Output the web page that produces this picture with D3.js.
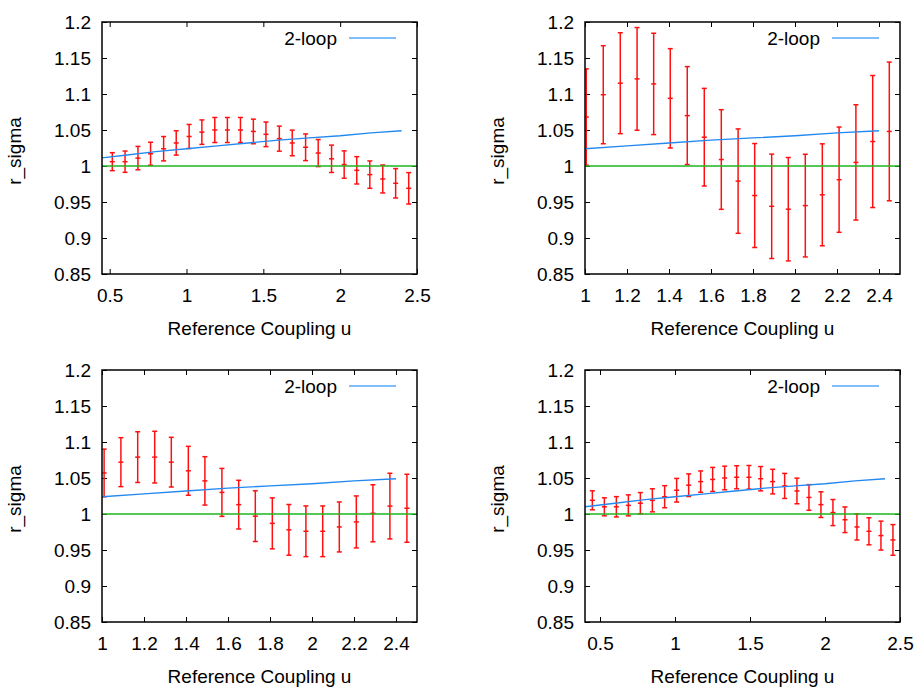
<!DOCTYPE html>
<html><head><meta charset="utf-8">
<script src="https://cdn.jsdelivr.net/npm/d3@7"></script>
<style>
body{margin:0;background:#fff}
svg{display:block}
text{font-family:"Liberation Sans",Arial,Helvetica,sans-serif;fill:#000}
</style>
</head><body>
<svg id="c" width="916" height="688"></svg>
<script>
// ---------- data ----------
const yTicks = [0.85, 0.9, 0.95, 1.0, 1.05, 1.1, 1.15, 1.2];
const yTickLabels = ["0.85", "0.9", "0.95", "1", "1.05", "1.1", "1.15", "1.2"];
const xTicksA = [0.5, 1, 1.5, 2, 2.5];
const xTickLabelsA = ["0.5", "1", "1.5", "2", "2.5"];
const xTicksB = [1, 1.2, 1.4, 1.6, 1.8, 2, 2.2, 2.4];
const xTickLabelsB = ["1", "1.2", "1.4", "1.6", "1.8", "2", "2.2", "2.4"];

const twoLoopU = [0.4, 0.6, 0.8, 1.0, 1.2, 1.4, 1.6, 1.8, 2.0, 2.2, 2.4];
const twoLoopR = [1.010, 1.015, 1.020, 1.024, 1.028, 1.032, 1.036, 1.039, 1.042, 1.046, 1.049];

const p1U = [0.517,0.600,0.684,0.766,0.851,0.933,1.017,1.100,1.184,1.266,1.351,1.435,1.517,1.604,1.688,1.775,1.857,1.944,2.026,2.108,2.193,2.277,2.361,2.446];
const p1R = [1.006,1.006,1.011,1.017,1.024,1.032,1.041,1.047,1.050,1.050,1.050,1.048,1.044,1.038,1.032,1.026,1.018,1.010,1.002,0.994,0.988,0.982,0.976,0.969];
const p1E = [0.0125,0.0148,0.0162,0.016,0.0169,0.0169,0.0167,0.017,0.0174,0.0174,0.0174,0.0171,0.0171,0.0174,0.0178,0.0185,0.0188,0.019,0.019,0.019,0.019,0.0194,0.0204,0.0218];

const p2U = [1.006,1.087,1.168,1.248,1.327,1.406,1.487,1.568,1.649,1.729,1.808,1.889,1.968,2.049,2.130,2.210,2.290,2.370,2.449];
const p2R = [1.068,1.099,1.115,1.121,1.114,1.094,1.070,1.040,1.009,0.979,0.959,0.944,0.940,0.945,0.960,0.981,1.005,1.034,1.048];
const p2E = [0.0669,0.0681,0.0701,0.0713,0.0704,0.069,0.068,0.0678,0.0692,0.0725,0.0722,0.0725,0.0718,0.0713,0.0708,0.0731,0.0801,0.0917,0.0963];

const p3U = [1.010,1.090,1.170,1.251,1.330,1.411,1.490,1.571,1.651,1.730,1.811,1.890,1.971,2.051,2.130,2.211,2.290,2.371,2.452];
const p3R = [1.057,1.072,1.079,1.079,1.072,1.060,1.046,1.030,1.013,0.997,0.987,0.978,0.976,0.976,0.982,0.989,1.001,1.011,1.008];
const p3E = [0.0331,0.034,0.0352,0.0359,0.0345,0.034,0.0336,0.0333,0.0338,0.0352,0.0354,0.0352,0.0352,0.0352,0.0347,0.0361,0.0396,0.0456,0.0472];

const p4U = [0.449,0.529,0.609,0.689,0.769,0.849,0.931,1.011,1.091,1.171,1.251,1.331,1.411,1.493,1.571,1.651,1.731,1.813,1.893,1.973,2.053,2.133,2.213,2.293,2.373,2.453];
const p4R = [1.019,1.010,1.010,1.012,1.015,1.019,1.024,1.033,1.040,1.045,1.048,1.050,1.051,1.051,1.049,1.045,1.039,1.032,1.023,1.013,1.002,0.992,0.982,0.976,0.970,0.964];
const p4E = [0.0132,0.0125,0.0141,0.0146,0.0148,0.016,0.0153,0.0164,0.0157,0.0148,0.0167,0.0164,0.016,0.0164,0.0169,0.0171,0.0174,0.0178,0.0178,0.0178,0.0181,0.0178,0.0181,0.0188,0.0201,0.0213];

const refLine = 1.0;
const legendLabel = "2-loop";
const xLabel = "Reference Coupling u";
const yLabel = "r_sigma";

// ---------- layout ----------
const W = 315, H = 252;
const panels = [
  {u:p1U, r:p1R, e:p1E, dom:[0.45,2.5], ticks:xTicksA, labels:xTickLabelsA, left:102, top:22},
  {u:p2U, r:p2R, e:p2E, dom:[1.0,2.5],  ticks:xTicksB, labels:xTickLabelsB, left:585, top:22},
  {u:p3U, r:p3R, e:p3E, dom:[1.0,2.5],  ticks:xTicksB, labels:xTickLabelsB, left:102, top:370},
  {u:p4U, r:p4R, e:p4E, dom:[0.4,2.5],  ticks:xTicksA, labels:xTickLabelsA, left:585, top:370}
];

const RED = "#ff1010", BLUE = "#2389f0", GREEN = "#1fb51f";
const FS = 19;
const svg = d3.select("#c");

panels.forEach((p, i) => {
  const g = svg.append("g").attr("transform", `translate(${p.left},${p.top})`);
  const x = d3.scaleLinear().domain(p.dom).range([0, W]);
  const y = d3.scaleLinear().domain([0.85, 1.2]).range([H, 0]);

  const clipId = "clip" + i;
  g.append("clipPath").attr("id", clipId).append("rect")
    .attr("x", 0).attr("y", 0).attr("width", W).attr("height", H);

  // axes (ticks inward, mirrored)
  const fmtX = d => p.labels[p.ticks.indexOf(d)];
  const fmtY = d => yTickLabels[yTicks.indexOf(d)];
  const axB = g.append("g").attr("transform", `translate(0,${H})`)
    .call(d3.axisBottom(x).tickValues(p.ticks).tickFormat(fmtX).tickSizeInner(-5).tickSizeOuter(0).tickPadding(14.5));
  const axT = g.append("g")
    .call(d3.axisTop(x).tickValues(p.ticks).tickFormat("").tickSizeInner(-5).tickSizeOuter(0));
  const axL = g.append("g")
    .call(d3.axisLeft(y).tickValues(yTicks).tickFormat(fmtY).tickSizeInner(-5).tickSizeOuter(0).tickPadding(11));
  const axR = g.append("g").attr("transform", `translate(${W},0)`)
    .call(d3.axisRight(y).tickValues(yTicks).tickFormat("").tickSizeInner(-5).tickSizeOuter(0));
  [axB, axT, axL, axR].forEach(a => {
    a.select(".domain").remove();
    a.selectAll(".tick line").attr("stroke", "#000").attr("stroke-width", 1);
    a.selectAll("text").attr("font-size", FS).attr("font-family", null).attr("fill", "#000");
  });

  const plot = g.append("g").attr("clip-path", `url(#${clipId})`);

  // error bars
  const pts = p.u.map((u, k) => ({u, r: p.r[k], e: p.e[k]}));
  const eb = plot.append("g").attr("stroke", RED).attr("stroke-width", 1.5).attr("fill", "none");
  pts.forEach(d => {
    const cx = x(d.u), y0 = y(d.r - d.e), y1 = y(d.r + d.e), cy = y(d.r);
    eb.append("line").attr("x1", cx).attr("x2", cx).attr("y1", y0).attr("y2", y1);
    eb.append("line").attr("x1", cx - 2.5).attr("x2", cx + 2.5).attr("y1", y0).attr("y2", y0);
    eb.append("line").attr("x1", cx - 2.5).attr("x2", cx + 2.5).attr("y1", y1).attr("y2", y1);
    eb.append("line").attr("x1", cx - 2.5).attr("x2", cx + 2.5).attr("y1", cy).attr("y2", cy);
  });

  // 2-loop curve
  const tl = twoLoopU.map((u, k) => [u, twoLoopR[k]]);
  plot.append("path").datum(tl)
    .attr("d", d3.line().x(d => x(d[0])).y(d => y(d[1])))
    .attr("fill", "none").attr("stroke", BLUE).attr("stroke-width", 1.4);

  // reference line at 1
  plot.append("line").attr("x1", 0).attr("x2", W)
    .attr("y1", y(refLine)).attr("y2", y(refLine))
    .attr("stroke", GREEN).attr("stroke-width", 1.5);

  // frame
  g.append("rect").attr("x", 0).attr("y", 0).attr("width", W).attr("height", H)
    .attr("fill", "none").attr("stroke", "#000").attr("stroke-width", 1.5);

  // legend
  g.append("text").attr("x", W - 80).attr("y", 16).attr("dy", "0.35em")
    .attr("text-anchor", "end").attr("font-size", FS).text(legendLabel);
  g.append("line").attr("x1", W - 68).attr("x2", W - 21).attr("y1", 16).attr("y2", 16)
    .attr("stroke", "#55a8fa").attr("stroke-width", 1.6);

  // axis labels
  g.append("text").attr("x", W / 2).attr("y", H + 61)
    .attr("text-anchor", "middle").attr("font-size", FS).text(xLabel);
  g.append("text").attr("transform", `translate(-81,${H / 2 + 3}) rotate(-90)`)
    .attr("text-anchor", "middle").attr("font-size", FS).text(yLabel);
});
</script>
</body></html>
